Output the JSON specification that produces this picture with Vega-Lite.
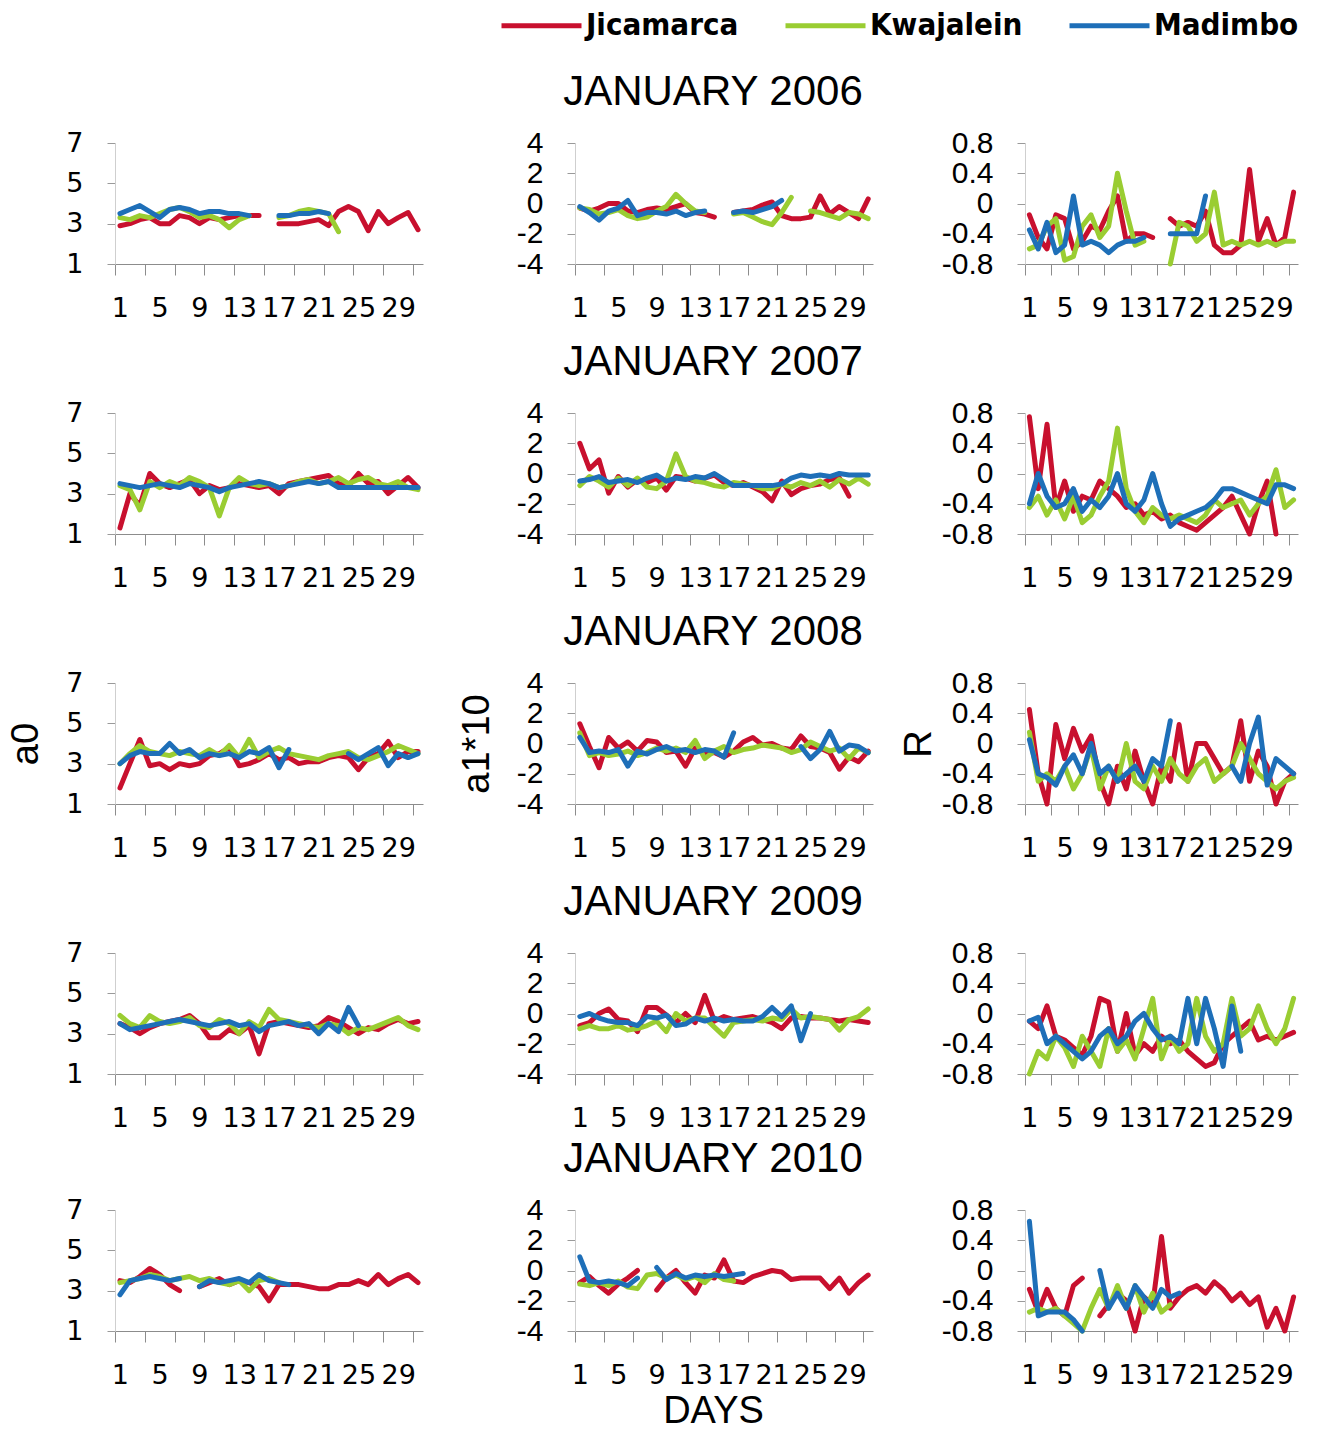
{
"$schema":"https://vega.github.io/schema/vega-lite/v6.json",
"background":"white",
"autosize":"none",
"padding":{"left":115,"top":143,"right":1204,"bottom":1292},
"config":{
 "view":{"stroke":null},
 "range":{"category":["#C8102E","#9ACD32","#1E6FB8"]},
 "line":{"strokeWidth":5,"strokeJoin":"round","strokeCap":"round"},
 "axis":{"grid":false,"labelFlush":false,"labelBound":false,"labelOverlap":false,"labelColor":"black","titleColor":"black","titleFont":"Liberation Sans","titleFontWeight":"normal","titleFontSize":38},
 "axisX":{"tickSize":11,"labelPadding":20,"labelFont":"DejaVu Sans","labelFontSize":27,"domainColor":"#8c8c8c","tickColor":"#8c8c8c","titleFontSize":38,"titlePadding":4},
 "axisY":{"tickSize":8,"labelPadding":24,"labelFont":"Liberation Sans","labelFontSize":30,"domainColor":"#cfcfcf","tickColor":"#9a9a9a"},
 "title":{"font":"Liberation Sans","fontSize":42,"fontWeight":"normal","color":"black"}
},
"datasets":{
"a2006":[
{"s":"J","d":1,"v":2.9},{"s":"J","d":2,"v":3.0},{"s":"J","d":3,"v":3.2},{"s":"J","d":4,"v":3.3},{"s":"J","d":5,"v":3.0},{"s":"J","d":6,"v":3.0},{"s":"J","d":7,"v":3.4},{"s":"J","d":8,"v":3.3},{"s":"J","d":9,"v":3.0},{"s":"J","d":10,"v":3.3},{"s":"J","d":11,"v":3.2},{"s":"J","d":12,"v":3.3},{"s":"J","d":13,"v":3.4},{"s":"J","d":14,"v":3.4},{"s":"J","d":15,"v":3.4},{"s":"J","d":16,"v":null},{"s":"J","d":17,"v":3.0},{"s":"J","d":18,"v":3.0},{"s":"J","d":19,"v":3.0},{"s":"J","d":20,"v":3.1},{"s":"J","d":21,"v":3.2},{"s":"J","d":22,"v":2.9},{"s":"J","d":23,"v":3.6},{"s":"J","d":24,"v":3.85},{"s":"J","d":25,"v":3.6},{"s":"J","d":26,"v":2.65},{"s":"J","d":27,"v":3.6},{"s":"J","d":28,"v":3.0},{"s":"J","d":29,"v":3.3},{"s":"J","d":30,"v":3.55},{"s":"J","d":31,"v":2.7},
{"s":"K","d":1,"v":3.3},{"s":"K","d":2,"v":3.2},{"s":"K","d":3,"v":3.4},{"s":"K","d":4,"v":3.3},{"s":"K","d":5,"v":3.5},{"s":"K","d":6,"v":3.7},{"s":"K","d":7,"v":3.8},{"s":"K","d":8,"v":3.6},{"s":"K","d":9,"v":3.3},{"s":"K","d":10,"v":3.4},{"s":"K","d":11,"v":3.2},{"s":"K","d":12,"v":2.8},{"s":"K","d":13,"v":3.2},{"s":"K","d":14,"v":3.4},{"s":"K","d":15,"v":null},{"s":"K","d":17,"v":3.3},{"s":"K","d":18,"v":3.4},{"s":"K","d":19,"v":3.6},{"s":"K","d":20,"v":3.7},{"s":"K","d":21,"v":3.6},{"s":"K","d":22,"v":3.5},{"s":"K","d":23,"v":2.6},
{"s":"M","d":1,"v":3.5},{"s":"M","d":2,"v":3.7},{"s":"M","d":3,"v":3.9},{"s":"M","d":4,"v":3.6},{"s":"M","d":5,"v":3.3},{"s":"M","d":6,"v":3.7},{"s":"M","d":7,"v":3.8},{"s":"M","d":8,"v":3.7},{"s":"M","d":9,"v":3.5},{"s":"M","d":10,"v":3.6},{"s":"M","d":11,"v":3.6},{"s":"M","d":12,"v":3.5},{"s":"M","d":13,"v":3.5},{"s":"M","d":14,"v":3.4},{"s":"M","d":15,"v":null},{"s":"M","d":17,"v":3.4},{"s":"M","d":18,"v":3.4},{"s":"M","d":19,"v":3.5},{"s":"M","d":20,"v":3.5},{"s":"M","d":21,"v":3.6},{"s":"M","d":22,"v":3.5}
],
"b2006":[
{"s":"J","d":1,"v":-0.3},{"s":"J","d":2,"v":-0.5},{"s":"J","d":3,"v":-0.3},{"s":"J","d":4,"v":0.0},{"s":"J","d":5,"v":0.0},{"s":"J","d":6,"v":-0.5},{"s":"J","d":7,"v":-0.6},{"s":"J","d":8,"v":-0.4},{"s":"J","d":9,"v":-0.3},{"s":"J","d":10,"v":-0.4},{"s":"J","d":11,"v":-0.2},{"s":"J","d":12,"v":0.0},{"s":"J","d":13,"v":-0.6},{"s":"J","d":14,"v":-0.7},{"s":"J","d":15,"v":-0.9},{"s":"J","d":16,"v":null},{"s":"J","d":17,"v":-0.6},{"s":"J","d":18,"v":-0.5},{"s":"J","d":19,"v":-0.4},{"s":"J","d":20,"v":-0.1},{"s":"J","d":21,"v":0.1},{"s":"J","d":22,"v":-0.8},{"s":"J","d":23,"v":-1.0},{"s":"J","d":24,"v":-1.0},{"s":"J","d":25,"v":-0.9},{"s":"J","d":26,"v":0.5},{"s":"J","d":27,"v":-0.7},{"s":"J","d":28,"v":-0.2},{"s":"J","d":29,"v":-0.6},{"s":"J","d":30,"v":-1.0},{"s":"J","d":31,"v":0.3},
{"s":"K","d":1,"v":-0.3},{"s":"K","d":2,"v":-0.4},{"s":"K","d":3,"v":-0.7},{"s":"K","d":4,"v":-0.6},{"s":"K","d":5,"v":-0.4},{"s":"K","d":6,"v":-0.8},{"s":"K","d":7,"v":-1.0},{"s":"K","d":8,"v":-0.9},{"s":"K","d":9,"v":-0.5},{"s":"K","d":10,"v":-0.2},{"s":"K","d":11,"v":0.6},{"s":"K","d":12,"v":0.0},{"s":"K","d":13,"v":-0.5},{"s":"K","d":14,"v":-0.6},{"s":"K","d":15,"v":null},{"s":"K","d":17,"v":-0.7},{"s":"K","d":18,"v":-0.6},{"s":"K","d":19,"v":-0.9},{"s":"K","d":20,"v":-1.2},{"s":"K","d":21,"v":-1.4},{"s":"K","d":22,"v":-0.6},{"s":"K","d":23,"v":0.4},{"s":"K","d":24,"v":null},{"s":"K","d":25,"v":-0.5},{"s":"K","d":26,"v":-0.6},{"s":"K","d":27,"v":-0.8},{"s":"K","d":28,"v":-1.0},{"s":"K","d":29,"v":-0.6},{"s":"K","d":30,"v":-0.7},{"s":"K","d":31,"v":-1.0},
{"s":"M","d":1,"v":-0.2},{"s":"M","d":2,"v":-0.6},{"s":"M","d":3,"v":-1.1},{"s":"M","d":4,"v":-0.5},{"s":"M","d":5,"v":-0.3},{"s":"M","d":6,"v":0.2},{"s":"M","d":7,"v":-0.8},{"s":"M","d":8,"v":-0.6},{"s":"M","d":9,"v":-0.6},{"s":"M","d":10,"v":-0.7},{"s":"M","d":11,"v":-0.5},{"s":"M","d":12,"v":-0.8},{"s":"M","d":13,"v":-0.6},{"s":"M","d":14,"v":-0.5},{"s":"M","d":15,"v":null},{"s":"M","d":17,"v":-0.6},{"s":"M","d":18,"v":-0.5},{"s":"M","d":19,"v":-0.6},{"s":"M","d":20,"v":-0.4},{"s":"M","d":21,"v":-0.2},{"s":"M","d":22,"v":0.2}
],
"r2006":[
{"s":"J","d":1,"v":-0.15},{"s":"J","d":2,"v":-0.45},{"s":"J","d":3,"v":-0.6},{"s":"J","d":4,"v":-0.15},{"s":"J","d":5,"v":-0.2},{"s":"J","d":6,"v":-0.6},{"s":"J","d":7,"v":-0.5},{"s":"J","d":8,"v":-0.3},{"s":"J","d":9,"v":-0.35},{"s":"J","d":10,"v":-0.1},{"s":"J","d":11,"v":0.1},{"s":"J","d":12,"v":-0.5},{"s":"J","d":13,"v":-0.4},{"s":"J","d":14,"v":-0.4},{"s":"J","d":15,"v":-0.45},{"s":"J","d":16,"v":null},{"s":"J","d":17,"v":-0.2},{"s":"J","d":18,"v":-0.3},{"s":"J","d":19,"v":-0.25},{"s":"J","d":20,"v":-0.3},{"s":"J","d":21,"v":-0.1},{"s":"J","d":22,"v":-0.55},{"s":"J","d":23,"v":-0.65},{"s":"J","d":24,"v":-0.65},{"s":"J","d":25,"v":-0.55},{"s":"J","d":26,"v":0.45},{"s":"J","d":27,"v":-0.5},{"s":"J","d":28,"v":-0.2},{"s":"J","d":29,"v":-0.55},{"s":"J","d":30,"v":-0.45},{"s":"J","d":31,"v":0.15},
{"s":"K","d":1,"v":-0.6},{"s":"K","d":2,"v":-0.55},{"s":"K","d":3,"v":-0.3},{"s":"K","d":4,"v":-0.2},{"s":"K","d":5,"v":-0.75},{"s":"K","d":6,"v":-0.7},{"s":"K","d":7,"v":-0.3},{"s":"K","d":8,"v":-0.15},{"s":"K","d":9,"v":-0.45},{"s":"K","d":10,"v":-0.3},{"s":"K","d":11,"v":0.4},{"s":"K","d":12,"v":-0.1},{"s":"K","d":13,"v":-0.55},{"s":"K","d":14,"v":-0.5},{"s":"K","d":15,"v":null},{"s":"K","d":17,"v":-0.8},{"s":"K","d":18,"v":-0.25},{"s":"K","d":19,"v":-0.3},{"s":"K","d":20,"v":-0.5},{"s":"K","d":21,"v":-0.4},{"s":"K","d":22,"v":0.15},{"s":"K","d":23,"v":-0.55},{"s":"K","d":24,"v":-0.5},{"s":"K","d":25,"v":-0.55},{"s":"K","d":26,"v":-0.5},{"s":"K","d":27,"v":-0.55},{"s":"K","d":28,"v":-0.5},{"s":"K","d":29,"v":-0.55},{"s":"K","d":30,"v":-0.5},{"s":"K","d":31,"v":-0.5},
{"s":"M","d":1,"v":-0.35},{"s":"M","d":2,"v":-0.6},{"s":"M","d":3,"v":-0.25},{"s":"M","d":4,"v":-0.65},{"s":"M","d":5,"v":-0.55},{"s":"M","d":6,"v":0.1},{"s":"M","d":7,"v":-0.55},{"s":"M","d":8,"v":-0.5},{"s":"M","d":9,"v":-0.55},{"s":"M","d":10,"v":-0.65},{"s":"M","d":11,"v":-0.55},{"s":"M","d":12,"v":-0.5},{"s":"M","d":13,"v":-0.5},{"s":"M","d":14,"v":-0.45},{"s":"M","d":15,"v":null},{"s":"M","d":17,"v":-0.4},{"s":"M","d":18,"v":-0.4},{"s":"M","d":19,"v":-0.4},{"s":"M","d":20,"v":-0.4},{"s":"M","d":21,"v":0.1}
],
"a2007":[
{"s":"J","d":1,"v":1.3},{"s":"J","d":2,"v":3.0},{"s":"J","d":3,"v":2.4},{"s":"J","d":4,"v":4.0},{"s":"J","d":5,"v":3.5},{"s":"J","d":6,"v":3.3},{"s":"J","d":7,"v":3.5},{"s":"J","d":8,"v":3.7},{"s":"J","d":9,"v":3.0},{"s":"J","d":10,"v":3.4},{"s":"J","d":11,"v":3.2},{"s":"J","d":12,"v":3.3},{"s":"J","d":13,"v":3.5},{"s":"J","d":14,"v":3.4},{"s":"J","d":15,"v":3.3},{"s":"J","d":16,"v":3.4},{"s":"J","d":17,"v":3.0},{"s":"J","d":18,"v":3.5},{"s":"J","d":19,"v":3.6},{"s":"J","d":20,"v":3.7},{"s":"J","d":21,"v":3.8},{"s":"J","d":22,"v":3.9},{"s":"J","d":23,"v":3.5},{"s":"J","d":24,"v":3.4},{"s":"J","d":25,"v":4.0},{"s":"J","d":26,"v":3.5},{"s":"J","d":27,"v":3.6},{"s":"J","d":28,"v":3.0},{"s":"J","d":29,"v":3.4},{"s":"J","d":30,"v":3.8},{"s":"J","d":31,"v":3.3},
{"s":"K","d":1,"v":3.4},{"s":"K","d":2,"v":3.2},{"s":"K","d":3,"v":2.2},{"s":"K","d":4,"v":3.6},{"s":"K","d":5,"v":3.3},{"s":"K","d":6,"v":3.6},{"s":"K","d":7,"v":3.4},{"s":"K","d":8,"v":3.8},{"s":"K","d":9,"v":3.6},{"s":"K","d":10,"v":3.3},{"s":"K","d":11,"v":1.9},{"s":"K","d":12,"v":3.3},{"s":"K","d":13,"v":3.8},{"s":"K","d":14,"v":3.5},{"s":"K","d":15,"v":3.4},{"s":"K","d":16,"v":3.5},{"s":"K","d":17,"v":3.3},{"s":"K","d":18,"v":3.4},{"s":"K","d":19,"v":3.6},{"s":"K","d":20,"v":3.7},{"s":"K","d":21,"v":3.5},{"s":"K","d":22,"v":3.6},{"s":"K","d":23,"v":3.8},{"s":"K","d":24,"v":3.5},{"s":"K","d":25,"v":3.7},{"s":"K","d":26,"v":3.8},{"s":"K","d":27,"v":3.5},{"s":"K","d":28,"v":3.4},{"s":"K","d":29,"v":3.6},{"s":"K","d":30,"v":3.3},{"s":"K","d":31,"v":3.2},
{"s":"M","d":1,"v":3.5},{"s":"M","d":2,"v":3.4},{"s":"M","d":3,"v":3.3},{"s":"M","d":4,"v":3.4},{"s":"M","d":5,"v":3.5},{"s":"M","d":6,"v":3.4},{"s":"M","d":7,"v":3.3},{"s":"M","d":8,"v":3.5},{"s":"M","d":9,"v":3.4},{"s":"M","d":10,"v":3.3},{"s":"M","d":11,"v":3.1},{"s":"M","d":12,"v":3.3},{"s":"M","d":13,"v":3.4},{"s":"M","d":14,"v":3.5},{"s":"M","d":15,"v":3.6},{"s":"M","d":16,"v":3.5},{"s":"M","d":17,"v":3.3},{"s":"M","d":18,"v":3.4},{"s":"M","d":19,"v":3.5},{"s":"M","d":20,"v":3.6},{"s":"M","d":21,"v":3.5},{"s":"M","d":22,"v":3.6},{"s":"M","d":23,"v":3.3},{"s":"M","d":24,"v":3.3},{"s":"M","d":25,"v":3.3},{"s":"M","d":26,"v":3.3},{"s":"M","d":27,"v":3.3},{"s":"M","d":28,"v":3.3},{"s":"M","d":29,"v":3.3},{"s":"M","d":30,"v":3.3},{"s":"M","d":31,"v":3.3}
],
"b2007":[
{"s":"J","d":1,"v":2.0},{"s":"J","d":2,"v":0.3},{"s":"J","d":3,"v":0.9},{"s":"J","d":4,"v":-1.3},{"s":"J","d":5,"v":-0.2},{"s":"J","d":6,"v":-0.9},{"s":"J","d":7,"v":-0.4},{"s":"J","d":8,"v":-0.6},{"s":"J","d":9,"v":-0.3},{"s":"J","d":10,"v":-1.1},{"s":"J","d":11,"v":-0.2},{"s":"J","d":12,"v":-0.3},{"s":"J","d":13,"v":-0.5},{"s":"J","d":14,"v":-0.3},{"s":"J","d":15,"v":-0.1},{"s":"J","d":16,"v":-0.6},{"s":"J","d":17,"v":-0.8},{"s":"J","d":18,"v":-0.6},{"s":"J","d":19,"v":-0.9},{"s":"J","d":20,"v":-1.2},{"s":"J","d":21,"v":-1.8},{"s":"J","d":22,"v":-0.5},{"s":"J","d":23,"v":-1.4},{"s":"J","d":24,"v":-1.0},{"s":"J","d":25,"v":-0.8},{"s":"J","d":26,"v":-0.7},{"s":"J","d":27,"v":-0.4},{"s":"J","d":28,"v":-0.3},{"s":"J","d":29,"v":-1.5},
{"s":"K","d":1,"v":-0.8},{"s":"K","d":2,"v":-0.2},{"s":"K","d":3,"v":-0.5},{"s":"K","d":4,"v":-0.9},{"s":"K","d":5,"v":-0.3},{"s":"K","d":6,"v":-0.8},{"s":"K","d":7,"v":-0.3},{"s":"K","d":8,"v":-0.9},{"s":"K","d":9,"v":-1.0},{"s":"K","d":10,"v":-0.5},{"s":"K","d":11,"v":1.3},{"s":"K","d":12,"v":-0.2},{"s":"K","d":13,"v":-0.5},{"s":"K","d":14,"v":-0.6},{"s":"K","d":15,"v":-0.8},{"s":"K","d":16,"v":-0.9},{"s":"K","d":17,"v":-0.6},{"s":"K","d":18,"v":-0.7},{"s":"K","d":19,"v":-0.8},{"s":"K","d":20,"v":-1.0},{"s":"K","d":21,"v":-1.0},{"s":"K","d":22,"v":-0.7},{"s":"K","d":23,"v":-0.9},{"s":"K","d":24,"v":-0.6},{"s":"K","d":25,"v":-0.8},{"s":"K","d":26,"v":-0.5},{"s":"K","d":27,"v":-0.9},{"s":"K","d":28,"v":-0.4},{"s":"K","d":29,"v":-0.7},{"s":"K","d":30,"v":-0.3},{"s":"K","d":31,"v":-0.7},
{"s":"M","d":1,"v":-0.5},{"s":"M","d":2,"v":-0.4},{"s":"M","d":3,"v":-0.2},{"s":"M","d":4,"v":-0.6},{"s":"M","d":5,"v":-0.5},{"s":"M","d":6,"v":-0.4},{"s":"M","d":7,"v":-0.6},{"s":"M","d":8,"v":-0.3},{"s":"M","d":9,"v":-0.1},{"s":"M","d":10,"v":-0.5},{"s":"M","d":11,"v":-0.3},{"s":"M","d":12,"v":-0.4},{"s":"M","d":13,"v":-0.2},{"s":"M","d":14,"v":-0.3},{"s":"M","d":15,"v":0.0},{"s":"M","d":16,"v":-0.4},{"s":"M","d":17,"v":-0.8},{"s":"M","d":18,"v":-0.8},{"s":"M","d":19,"v":-0.8},{"s":"M","d":20,"v":-0.8},{"s":"M","d":21,"v":-0.8},{"s":"M","d":22,"v":-0.7},{"s":"M","d":23,"v":-0.3},{"s":"M","d":24,"v":-0.1},{"s":"M","d":25,"v":-0.2},{"s":"M","d":26,"v":-0.1},{"s":"M","d":27,"v":-0.2},{"s":"M","d":28,"v":0.0},{"s":"M","d":29,"v":-0.1},{"s":"M","d":30,"v":-0.1},{"s":"M","d":31,"v":-0.1}
],
"r2007":[
{"s":"J","d":1,"v":0.75},{"s":"J","d":2,"v":-0.2},{"s":"J","d":3,"v":0.65},{"s":"J","d":4,"v":-0.45},{"s":"J","d":5,"v":-0.1},{"s":"J","d":6,"v":-0.5},{"s":"J","d":7,"v":-0.3},{"s":"J","d":8,"v":-0.35},{"s":"J","d":9,"v":-0.1},{"s":"J","d":10,"v":-0.2},{"s":"J","d":11,"v":-0.3},{"s":"J","d":12,"v":-0.45},{"s":"J","d":13,"v":-0.4},{"s":"J","d":14,"v":-0.55},{"s":"J","d":15,"v":-0.5},{"s":"J","d":16,"v":-0.6},{"s":"J","d":17,"v":-0.55},{"s":"J","d":18,"v":-0.65},{"s":"J","d":19,"v":-0.7},{"s":"J","d":20,"v":-0.75},{"s":"J","d":21,"v":-0.65},{"s":"J","d":22,"v":-0.55},{"s":"J","d":23,"v":-0.45},{"s":"J","d":24,"v":-0.3},{"s":"J","d":25,"v":-0.55},{"s":"J","d":26,"v":-0.8},{"s":"J","d":27,"v":-0.4},{"s":"J","d":28,"v":-0.1},{"s":"J","d":29,"v":-0.8},
{"s":"K","d":1,"v":-0.45},{"s":"K","d":2,"v":-0.3},{"s":"K","d":3,"v":-0.55},{"s":"K","d":4,"v":-0.35},{"s":"K","d":5,"v":-0.6},{"s":"K","d":6,"v":-0.3},{"s":"K","d":7,"v":-0.65},{"s":"K","d":8,"v":-0.55},{"s":"K","d":9,"v":-0.3},{"s":"K","d":10,"v":-0.1},{"s":"K","d":11,"v":0.6},{"s":"K","d":12,"v":-0.2},{"s":"K","d":13,"v":-0.5},{"s":"K","d":14,"v":-0.65},{"s":"K","d":15,"v":-0.45},{"s":"K","d":16,"v":-0.55},{"s":"K","d":17,"v":-0.6},{"s":"K","d":18,"v":-0.55},{"s":"K","d":19,"v":-0.6},{"s":"K","d":20,"v":-0.65},{"s":"K","d":21,"v":-0.55},{"s":"K","d":22,"v":-0.35},{"s":"K","d":23,"v":-0.45},{"s":"K","d":24,"v":-0.4},{"s":"K","d":25,"v":-0.35},{"s":"K","d":26,"v":-0.55},{"s":"K","d":27,"v":-0.4},{"s":"K","d":28,"v":-0.3},{"s":"K","d":29,"v":0.05},{"s":"K","d":30,"v":-0.45},{"s":"K","d":31,"v":-0.35},
{"s":"M","d":1,"v":-0.4},{"s":"M","d":2,"v":0.0},{"s":"M","d":3,"v":-0.3},{"s":"M","d":4,"v":-0.45},{"s":"M","d":5,"v":-0.4},{"s":"M","d":6,"v":-0.2},{"s":"M","d":7,"v":-0.5},{"s":"M","d":8,"v":-0.35},{"s":"M","d":9,"v":-0.45},{"s":"M","d":10,"v":-0.3},{"s":"M","d":11,"v":0.0},{"s":"M","d":12,"v":-0.4},{"s":"M","d":13,"v":-0.5},{"s":"M","d":14,"v":-0.35},{"s":"M","d":15,"v":0.0},{"s":"M","d":16,"v":-0.4},{"s":"M","d":17,"v":-0.7},{"s":"M","d":18,"v":-0.6},{"s":"M","d":19,"v":-0.55},{"s":"M","d":20,"v":-0.5},{"s":"M","d":21,"v":-0.45},{"s":"M","d":22,"v":-0.35},{"s":"M","d":23,"v":-0.2},{"s":"M","d":24,"v":-0.2},{"s":"M","d":25,"v":-0.25},{"s":"M","d":26,"v":-0.3},{"s":"M","d":27,"v":-0.35},{"s":"M","d":28,"v":-0.4},{"s":"M","d":29,"v":-0.15},{"s":"M","d":30,"v":-0.15},{"s":"M","d":31,"v":-0.2}
],
"a2008":[
{"s":"J","d":1,"v":1.8},{"s":"J","d":2,"v":3.0},{"s":"J","d":3,"v":4.2},{"s":"J","d":4,"v":2.9},{"s":"J","d":5,"v":3.0},{"s":"J","d":6,"v":2.7},{"s":"J","d":7,"v":3.0},{"s":"J","d":8,"v":2.9},{"s":"J","d":9,"v":3.0},{"s":"J","d":10,"v":3.4},{"s":"J","d":11,"v":3.5},{"s":"J","d":12,"v":3.8},{"s":"J","d":13,"v":2.9},{"s":"J","d":14,"v":3.0},{"s":"J","d":15,"v":3.2},{"s":"J","d":16,"v":3.5},{"s":"J","d":17,"v":3.2},{"s":"J","d":18,"v":3.3},{"s":"J","d":19,"v":3.0},{"s":"J","d":20,"v":3.1},{"s":"J","d":21,"v":3.1},{"s":"J","d":22,"v":3.3},{"s":"J","d":23,"v":3.4},{"s":"J","d":24,"v":3.3},{"s":"J","d":25,"v":2.7},{"s":"J","d":26,"v":3.3},{"s":"J","d":27,"v":3.5},{"s":"J","d":28,"v":4.1},{"s":"J","d":29,"v":3.3},{"s":"J","d":30,"v":3.6},{"s":"J","d":31,"v":3.6},
{"s":"K","d":1,"v":3.0},{"s":"K","d":2,"v":3.5},{"s":"K","d":3,"v":3.9},{"s":"K","d":4,"v":3.6},{"s":"K","d":5,"v":3.5},{"s":"K","d":6,"v":3.4},{"s":"K","d":7,"v":3.6},{"s":"K","d":8,"v":3.5},{"s":"K","d":9,"v":3.4},{"s":"K","d":10,"v":3.7},{"s":"K","d":11,"v":3.4},{"s":"K","d":12,"v":3.9},{"s":"K","d":13,"v":3.3},{"s":"K","d":14,"v":4.2},{"s":"K","d":15,"v":3.3},{"s":"K","d":16,"v":3.6},{"s":"K","d":17,"v":3.8},{"s":"K","d":18,"v":3.5},{"s":"K","d":19,"v":3.4},{"s":"K","d":20,"v":3.3},{"s":"K","d":21,"v":3.2},{"s":"K","d":22,"v":3.4},{"s":"K","d":23,"v":3.5},{"s":"K","d":24,"v":3.6},{"s":"K","d":25,"v":3.3},{"s":"K","d":26,"v":3.2},{"s":"K","d":27,"v":3.4},{"s":"K","d":28,"v":3.6},{"s":"K","d":29,"v":3.9},{"s":"K","d":30,"v":3.7},{"s":"K","d":31,"v":3.5},
{"s":"M","d":1,"v":3.0},{"s":"M","d":2,"v":3.4},{"s":"M","d":3,"v":3.6},{"s":"M","d":4,"v":3.5},{"s":"M","d":5,"v":3.5},{"s":"M","d":6,"v":4.0},{"s":"M","d":7,"v":3.5},{"s":"M","d":8,"v":3.7},{"s":"M","d":9,"v":3.3},{"s":"M","d":10,"v":3.5},{"s":"M","d":11,"v":3.4},{"s":"M","d":12,"v":3.5},{"s":"M","d":13,"v":3.3},{"s":"M","d":14,"v":3.6},{"s":"M","d":15,"v":3.5},{"s":"M","d":16,"v":3.8},{"s":"M","d":17,"v":2.8},{"s":"M","d":18,"v":3.7},{"s":"M","d":19,"v":null},{"s":"M","d":24,"v":3.5},{"s":"M","d":25,"v":3.2},{"s":"M","d":26,"v":3.5},{"s":"M","d":27,"v":3.8},{"s":"M","d":28,"v":2.9},{"s":"M","d":29,"v":3.5},{"s":"M","d":30,"v":3.3},{"s":"M","d":31,"v":3.5}
],
"b2008":[
{"s":"J","d":1,"v":1.3},{"s":"J","d":2,"v":-0.2},{"s":"J","d":3,"v":-1.6},{"s":"J","d":4,"v":0.4},{"s":"J","d":5,"v":-0.3},{"s":"J","d":6,"v":0.1},{"s":"J","d":7,"v":-0.5},{"s":"J","d":8,"v":0.2},{"s":"J","d":9,"v":0.1},{"s":"J","d":10,"v":-0.6},{"s":"J","d":11,"v":-0.5},{"s":"J","d":12,"v":-1.5},{"s":"J","d":13,"v":-0.3},{"s":"J","d":14,"v":-0.7},{"s":"J","d":15,"v":-0.6},{"s":"J","d":16,"v":-0.9},{"s":"J","d":17,"v":-0.5},{"s":"J","d":18,"v":0.1},{"s":"J","d":19,"v":0.4},{"s":"J","d":20,"v":-0.1},{"s":"J","d":21,"v":0.0},{"s":"J","d":22,"v":-0.3},{"s":"J","d":23,"v":-0.4},{"s":"J","d":24,"v":0.5},{"s":"J","d":25,"v":-0.2},{"s":"J","d":26,"v":-0.3},{"s":"J","d":27,"v":-0.6},{"s":"J","d":28,"v":-1.7},{"s":"J","d":29,"v":-0.9},{"s":"J","d":30,"v":-1.2},{"s":"J","d":31,"v":-0.5},
{"s":"K","d":1,"v":0.7},{"s":"K","d":2,"v":-0.8},{"s":"K","d":3,"v":-0.6},{"s":"K","d":4,"v":-0.8},{"s":"K","d":5,"v":-0.7},{"s":"K","d":6,"v":-0.5},{"s":"K","d":7,"v":-0.8},{"s":"K","d":8,"v":-0.6},{"s":"K","d":9,"v":-0.3},{"s":"K","d":10,"v":-0.5},{"s":"K","d":11,"v":-0.3},{"s":"K","d":12,"v":-0.6},{"s":"K","d":13,"v":0.2},{"s":"K","d":14,"v":-1.0},{"s":"K","d":15,"v":-0.5},{"s":"K","d":16,"v":-0.2},{"s":"K","d":17,"v":-0.6},{"s":"K","d":18,"v":-0.4},{"s":"K","d":19,"v":-0.3},{"s":"K","d":20,"v":-0.1},{"s":"K","d":21,"v":-0.2},{"s":"K","d":22,"v":-0.3},{"s":"K","d":23,"v":-0.6},{"s":"K","d":24,"v":-0.4},{"s":"K","d":25,"v":0.1},{"s":"K","d":26,"v":-0.2},{"s":"K","d":27,"v":-0.5},{"s":"K","d":28,"v":-0.3},{"s":"K","d":29,"v":-1.0},{"s":"K","d":30,"v":-0.3},{"s":"K","d":31,"v":-0.6},
{"s":"M","d":1,"v":0.4},{"s":"M","d":2,"v":-0.6},{"s":"M","d":3,"v":-0.5},{"s":"M","d":4,"v":-0.6},{"s":"M","d":5,"v":-0.4},{"s":"M","d":6,"v":-1.5},{"s":"M","d":7,"v":-0.5},{"s":"M","d":8,"v":-0.7},{"s":"M","d":9,"v":-0.4},{"s":"M","d":10,"v":-0.2},{"s":"M","d":11,"v":-0.5},{"s":"M","d":12,"v":-0.4},{"s":"M","d":13,"v":-0.6},{"s":"M","d":14,"v":-0.4},{"s":"M","d":15,"v":-0.5},{"s":"M","d":16,"v":-0.9},{"s":"M","d":17,"v":0.7},{"s":"M","d":18,"v":null},{"s":"M","d":24,"v":-0.2},{"s":"M","d":25,"v":-1.0},{"s":"M","d":26,"v":-0.4},{"s":"M","d":27,"v":0.8},{"s":"M","d":28,"v":-0.5},{"s":"M","d":29,"v":-0.1},{"s":"M","d":30,"v":-0.2},{"s":"M","d":31,"v":-0.6}
],
"r2008":[
{"s":"J","d":1,"v":0.45},{"s":"J","d":2,"v":-0.4},{"s":"J","d":3,"v":-0.8},{"s":"J","d":4,"v":0.25},{"s":"J","d":5,"v":-0.2},{"s":"J","d":6,"v":0.2},{"s":"J","d":7,"v":-0.1},{"s":"J","d":8,"v":0.1},{"s":"J","d":9,"v":-0.5},{"s":"J","d":10,"v":-0.8},{"s":"J","d":11,"v":-0.3},{"s":"J","d":12,"v":-0.6},{"s":"J","d":13,"v":-0.1},{"s":"J","d":14,"v":-0.5},{"s":"J","d":15,"v":-0.8},{"s":"J","d":16,"v":-0.3},{"s":"J","d":17,"v":-0.5},{"s":"J","d":18,"v":0.25},{"s":"J","d":19,"v":-0.5},{"s":"J","d":20,"v":0.0},{"s":"J","d":21,"v":0.0},{"s":"J","d":22,"v":-0.2},{"s":"J","d":23,"v":-0.4},{"s":"J","d":24,"v":-0.3},{"s":"J","d":25,"v":0.3},{"s":"J","d":26,"v":-0.5},{"s":"J","d":27,"v":-0.1},{"s":"J","d":28,"v":-0.3},{"s":"J","d":29,"v":-0.8},{"s":"J","d":30,"v":-0.5},{"s":"J","d":31,"v":-0.4},
{"s":"K","d":1,"v":0.15},{"s":"K","d":2,"v":-0.5},{"s":"K","d":3,"v":-0.4},{"s":"K","d":4,"v":-0.5},{"s":"K","d":5,"v":-0.3},{"s":"K","d":6,"v":-0.6},{"s":"K","d":7,"v":-0.4},{"s":"K","d":8,"v":-0.05},{"s":"K","d":9,"v":-0.6},{"s":"K","d":10,"v":-0.3},{"s":"K","d":11,"v":-0.5},{"s":"K","d":12,"v":0.0},{"s":"K","d":13,"v":-0.5},{"s":"K","d":14,"v":-0.6},{"s":"K","d":15,"v":-0.3},{"s":"K","d":16,"v":-0.5},{"s":"K","d":17,"v":-0.2},{"s":"K","d":18,"v":-0.4},{"s":"K","d":19,"v":-0.5},{"s":"K","d":20,"v":-0.3},{"s":"K","d":21,"v":-0.2},{"s":"K","d":22,"v":-0.5},{"s":"K","d":23,"v":-0.4},{"s":"K","d":24,"v":-0.3},{"s":"K","d":25,"v":0.0},{"s":"K","d":26,"v":-0.2},{"s":"K","d":27,"v":-0.4},{"s":"K","d":28,"v":-0.5},{"s":"K","d":29,"v":-0.6},{"s":"K","d":30,"v":-0.5},{"s":"K","d":31,"v":-0.45},
{"s":"M","d":1,"v":0.05},{"s":"M","d":2,"v":-0.4},{"s":"M","d":3,"v":-0.45},{"s":"M","d":4,"v":-0.55},{"s":"M","d":5,"v":-0.3},{"s":"M","d":6,"v":-0.15},{"s":"M","d":7,"v":-0.4},{"s":"M","d":8,"v":0.0},{"s":"M","d":9,"v":-0.4},{"s":"M","d":10,"v":-0.3},{"s":"M","d":11,"v":-0.5},{"s":"M","d":12,"v":-0.4},{"s":"M","d":13,"v":-0.3},{"s":"M","d":14,"v":-0.5},{"s":"M","d":15,"v":-0.2},{"s":"M","d":16,"v":-0.3},{"s":"M","d":17,"v":0.3},{"s":"M","d":18,"v":null},{"s":"M","d":24,"v":-0.3},{"s":"M","d":25,"v":-0.5},{"s":"M","d":26,"v":0.0},{"s":"M","d":27,"v":0.35},{"s":"M","d":28,"v":-0.55},{"s":"M","d":29,"v":-0.2},{"s":"M","d":30,"v":-0.3},{"s":"M","d":31,"v":-0.4}
],
"a2009":[
{"s":"J","d":1,"v":3.5},{"s":"J","d":2,"v":3.3},{"s":"J","d":3,"v":3.0},{"s":"J","d":4,"v":3.3},{"s":"J","d":5,"v":3.5},{"s":"J","d":6,"v":3.6},{"s":"J","d":7,"v":3.7},{"s":"J","d":8,"v":3.9},{"s":"J","d":9,"v":3.5},{"s":"J","d":10,"v":2.8},{"s":"J","d":11,"v":2.8},{"s":"J","d":12,"v":3.2},{"s":"J","d":13,"v":3.0},{"s":"J","d":14,"v":3.4},{"s":"J","d":15,"v":2.0},{"s":"J","d":16,"v":3.5},{"s":"J","d":17,"v":3.6},{"s":"J","d":18,"v":3.5},{"s":"J","d":19,"v":3.4},{"s":"J","d":20,"v":3.3},{"s":"J","d":21,"v":3.4},{"s":"J","d":22,"v":3.8},{"s":"J","d":23,"v":3.6},{"s":"J","d":24,"v":3.3},{"s":"J","d":25,"v":3.0},{"s":"J","d":26,"v":3.3},{"s":"J","d":27,"v":3.2},{"s":"J","d":28,"v":3.5},{"s":"J","d":29,"v":3.7},{"s":"J","d":30,"v":3.5},{"s":"J","d":31,"v":3.6},
{"s":"K","d":1,"v":3.9},{"s":"K","d":2,"v":3.5},{"s":"K","d":3,"v":3.3},{"s":"K","d":4,"v":3.9},{"s":"K","d":5,"v":3.6},{"s":"K","d":6,"v":3.5},{"s":"K","d":7,"v":3.6},{"s":"K","d":8,"v":3.8},{"s":"K","d":9,"v":3.4},{"s":"K","d":10,"v":3.3},{"s":"K","d":11,"v":3.7},{"s":"K","d":12,"v":3.5},{"s":"K","d":13,"v":3.0},{"s":"K","d":14,"v":3.6},{"s":"K","d":15,"v":3.3},{"s":"K","d":16,"v":4.2},{"s":"K","d":17,"v":3.7},{"s":"K","d":18,"v":3.6},{"s":"K","d":19,"v":3.5},{"s":"K","d":20,"v":3.4},{"s":"K","d":21,"v":3.3},{"s":"K","d":22,"v":3.5},{"s":"K","d":23,"v":3.4},{"s":"K","d":24,"v":3.0},{"s":"K","d":25,"v":3.3},{"s":"K","d":26,"v":3.2},{"s":"K","d":27,"v":3.4},{"s":"K","d":28,"v":3.6},{"s":"K","d":29,"v":3.8},{"s":"K","d":30,"v":3.4},{"s":"K","d":31,"v":3.2},
{"s":"M","d":1,"v":3.5},{"s":"M","d":2,"v":3.2},{"s":"M","d":3,"v":3.3},{"s":"M","d":4,"v":3.4},{"s":"M","d":5,"v":3.5},{"s":"M","d":6,"v":3.6},{"s":"M","d":7,"v":3.7},{"s":"M","d":8,"v":3.6},{"s":"M","d":9,"v":3.5},{"s":"M","d":10,"v":3.4},{"s":"M","d":11,"v":3.5},{"s":"M","d":12,"v":3.6},{"s":"M","d":13,"v":3.4},{"s":"M","d":14,"v":3.5},{"s":"M","d":15,"v":3.1},{"s":"M","d":16,"v":3.4},{"s":"M","d":17,"v":3.5},{"s":"M","d":18,"v":3.6},{"s":"M","d":19,"v":3.4},{"s":"M","d":20,"v":3.5},{"s":"M","d":21,"v":3.0},{"s":"M","d":22,"v":3.5},{"s":"M","d":23,"v":3.1},{"s":"M","d":24,"v":4.3},{"s":"M","d":25,"v":3.4}
],
"b2009":[
{"s":"J","d":1,"v":-0.8},{"s":"J","d":2,"v":-0.6},{"s":"J","d":3,"v":0.0},{"s":"J","d":4,"v":0.3},{"s":"J","d":5,"v":-0.4},{"s":"J","d":6,"v":-0.5},{"s":"J","d":7,"v":-1.2},{"s":"J","d":8,"v":0.4},{"s":"J","d":9,"v":0.4},{"s":"J","d":10,"v":-0.1},{"s":"J","d":11,"v":-0.6},{"s":"J","d":12,"v":0.0},{"s":"J","d":13,"v":-0.6},{"s":"J","d":14,"v":1.2},{"s":"J","d":15,"v":-0.5},{"s":"J","d":16,"v":-0.2},{"s":"J","d":17,"v":-0.4},{"s":"J","d":18,"v":-0.3},{"s":"J","d":19,"v":-0.2},{"s":"J","d":20,"v":-0.4},{"s":"J","d":21,"v":-0.6},{"s":"J","d":22,"v":-1.0},{"s":"J","d":23,"v":-0.3},{"s":"J","d":24,"v":-0.2},{"s":"J","d":25,"v":-0.3},{"s":"J","d":26,"v":-0.3},{"s":"J","d":27,"v":-0.4},{"s":"J","d":28,"v":-0.5},{"s":"J","d":29,"v":-0.4},{"s":"J","d":30,"v":-0.5},{"s":"J","d":31,"v":-0.6},
{"s":"K","d":1,"v":-1.0},{"s":"K","d":2,"v":-0.8},{"s":"K","d":3,"v":-1.0},{"s":"K","d":4,"v":-1.0},{"s":"K","d":5,"v":-0.8},{"s":"K","d":6,"v":-1.1},{"s":"K","d":7,"v":-1.0},{"s":"K","d":8,"v":-0.8},{"s":"K","d":9,"v":-0.5},{"s":"K","d":10,"v":-1.2},{"s":"K","d":11,"v":0.0},{"s":"K","d":12,"v":-0.5},{"s":"K","d":13,"v":-0.3},{"s":"K","d":14,"v":-0.3},{"s":"K","d":15,"v":-0.9},{"s":"K","d":16,"v":-1.5},{"s":"K","d":17,"v":-0.6},{"s":"K","d":18,"v":-0.5},{"s":"K","d":19,"v":-0.4},{"s":"K","d":20,"v":-0.5},{"s":"K","d":21,"v":-0.3},{"s":"K","d":22,"v":-0.4},{"s":"K","d":23,"v":0.3},{"s":"K","d":24,"v":-0.3},{"s":"K","d":25,"v":-0.2},{"s":"K","d":26,"v":-0.3},{"s":"K","d":27,"v":-0.4},{"s":"K","d":28,"v":-1.1},{"s":"K","d":29,"v":-0.4},{"s":"K","d":30,"v":-0.2},{"s":"K","d":31,"v":0.3},
{"s":"M","d":1,"v":-0.2},{"s":"M","d":2,"v":0.0},{"s":"M","d":3,"v":-0.3},{"s":"M","d":4,"v":-0.5},{"s":"M","d":5,"v":-0.6},{"s":"M","d":6,"v":-0.6},{"s":"M","d":7,"v":-0.8},{"s":"M","d":8,"v":-0.2},{"s":"M","d":9,"v":-0.3},{"s":"M","d":10,"v":-0.1},{"s":"M","d":11,"v":-0.8},{"s":"M","d":12,"v":-0.7},{"s":"M","d":13,"v":-0.3},{"s":"M","d":14,"v":-0.5},{"s":"M","d":15,"v":-0.3},{"s":"M","d":16,"v":-0.5},{"s":"M","d":17,"v":-0.4},{"s":"M","d":18,"v":-0.5},{"s":"M","d":19,"v":-0.5},{"s":"M","d":20,"v":-0.2},{"s":"M","d":21,"v":0.4},{"s":"M","d":22,"v":-0.2},{"s":"M","d":23,"v":0.5},{"s":"M","d":24,"v":-1.8},{"s":"M","d":25,"v":0.0}
],
"r2009":[
{"s":"J","d":1,"v":-0.1},{"s":"J","d":2,"v":-0.2},{"s":"J","d":3,"v":0.1},{"s":"J","d":4,"v":-0.3},{"s":"J","d":5,"v":-0.35},{"s":"J","d":6,"v":-0.45},{"s":"J","d":7,"v":-0.55},{"s":"J","d":8,"v":-0.3},{"s":"J","d":9,"v":0.2},{"s":"J","d":10,"v":0.15},{"s":"J","d":11,"v":-0.5},{"s":"J","d":12,"v":0.0},{"s":"J","d":13,"v":-0.55},{"s":"J","d":14,"v":-0.4},{"s":"J","d":15,"v":-0.5},{"s":"J","d":16,"v":-0.3},{"s":"J","d":17,"v":-0.4},{"s":"J","d":18,"v":-0.35},{"s":"J","d":19,"v":-0.5},{"s":"J","d":20,"v":-0.6},{"s":"J","d":21,"v":-0.7},{"s":"J","d":22,"v":-0.65},{"s":"J","d":23,"v":-0.4},{"s":"J","d":24,"v":-0.3},{"s":"J","d":25,"v":-0.2},{"s":"J","d":26,"v":-0.1},{"s":"J","d":27,"v":-0.35},{"s":"J","d":28,"v":-0.3},{"s":"J","d":29,"v":-0.35},{"s":"J","d":30,"v":-0.3},{"s":"J","d":31,"v":-0.25},
{"s":"K","d":1,"v":-0.8},{"s":"K","d":2,"v":-0.5},{"s":"K","d":3,"v":-0.6},{"s":"K","d":4,"v":-0.3},{"s":"K","d":5,"v":-0.45},{"s":"K","d":6,"v":-0.7},{"s":"K","d":7,"v":-0.3},{"s":"K","d":8,"v":-0.5},{"s":"K","d":9,"v":-0.7},{"s":"K","d":10,"v":-0.2},{"s":"K","d":11,"v":-0.5},{"s":"K","d":12,"v":-0.35},{"s":"K","d":13,"v":-0.6},{"s":"K","d":14,"v":-0.2},{"s":"K","d":15,"v":0.2},{"s":"K","d":16,"v":-0.6},{"s":"K","d":17,"v":-0.3},{"s":"K","d":18,"v":-0.5},{"s":"K","d":19,"v":-0.4},{"s":"K","d":20,"v":0.2},{"s":"K","d":21,"v":-0.3},{"s":"K","d":22,"v":-0.5},{"s":"K","d":23,"v":-0.4},{"s":"K","d":24,"v":0.2},{"s":"K","d":25,"v":-0.3},{"s":"K","d":26,"v":-0.2},{"s":"K","d":27,"v":0.1},{"s":"K","d":28,"v":-0.2},{"s":"K","d":29,"v":-0.4},{"s":"K","d":30,"v":-0.2},{"s":"K","d":31,"v":0.2},
{"s":"M","d":1,"v":-0.1},{"s":"M","d":2,"v":-0.05},{"s":"M","d":3,"v":-0.4},{"s":"M","d":4,"v":-0.3},{"s":"M","d":5,"v":-0.4},{"s":"M","d":6,"v":-0.5},{"s":"M","d":7,"v":-0.6},{"s":"M","d":8,"v":-0.5},{"s":"M","d":9,"v":-0.3},{"s":"M","d":10,"v":-0.2},{"s":"M","d":11,"v":-0.4},{"s":"M","d":12,"v":-0.3},{"s":"M","d":13,"v":-0.1},{"s":"M","d":14,"v":0.0},{"s":"M","d":15,"v":-0.2},{"s":"M","d":16,"v":-0.35},{"s":"M","d":17,"v":-0.3},{"s":"M","d":18,"v":-0.4},{"s":"M","d":19,"v":0.2},{"s":"M","d":20,"v":-0.4},{"s":"M","d":21,"v":0.2},{"s":"M","d":22,"v":-0.2},{"s":"M","d":23,"v":-0.7},{"s":"M","d":24,"v":0.1},{"s":"M","d":25,"v":-0.5}
],
"a2010":[
{"s":"J","d":1,"v":3.5},{"s":"J","d":2,"v":3.4},{"s":"J","d":3,"v":3.7},{"s":"J","d":4,"v":4.1},{"s":"J","d":5,"v":3.8},{"s":"J","d":6,"v":3.3},{"s":"J","d":7,"v":3.0},{"s":"J","d":8,"v":null},{"s":"J","d":9,"v":3.2},{"s":"J","d":10,"v":3.4},{"s":"J","d":11,"v":3.6},{"s":"J","d":12,"v":3.3},{"s":"J","d":13,"v":3.5},{"s":"J","d":14,"v":3.4},{"s":"J","d":15,"v":3.2},{"s":"J","d":16,"v":2.5},{"s":"J","d":17,"v":3.3},{"s":"J","d":18,"v":3.3},{"s":"J","d":19,"v":3.3},{"s":"J","d":20,"v":3.2},{"s":"J","d":21,"v":3.1},{"s":"J","d":22,"v":3.1},{"s":"J","d":23,"v":3.3},{"s":"J","d":24,"v":3.3},{"s":"J","d":25,"v":3.5},{"s":"J","d":26,"v":3.3},{"s":"J","d":27,"v":3.8},{"s":"J","d":28,"v":3.3},{"s":"J","d":29,"v":3.6},{"s":"J","d":30,"v":3.8},{"s":"J","d":31,"v":3.4},
{"s":"K","d":1,"v":3.4},{"s":"K","d":2,"v":3.5},{"s":"K","d":3,"v":3.6},{"s":"K","d":4,"v":3.8},{"s":"K","d":5,"v":3.7},{"s":"K","d":6,"v":3.5},{"s":"K","d":7,"v":3.6},{"s":"K","d":8,"v":3.7},{"s":"K","d":9,"v":3.5},{"s":"K","d":10,"v":3.6},{"s":"K","d":11,"v":3.4},{"s":"K","d":12,"v":3.3},{"s":"K","d":13,"v":3.5},{"s":"K","d":14,"v":3.0},{"s":"K","d":15,"v":3.5},{"s":"K","d":16,"v":3.6},{"s":"K","d":17,"v":3.4},
{"s":"M","d":1,"v":2.8},{"s":"M","d":2,"v":3.5},{"s":"M","d":3,"v":3.6},{"s":"M","d":4,"v":3.7},{"s":"M","d":5,"v":3.6},{"s":"M","d":6,"v":3.5},{"s":"M","d":7,"v":3.6},{"s":"M","d":8,"v":null},{"s":"M","d":9,"v":3.2},{"s":"M","d":10,"v":3.5},{"s":"M","d":11,"v":3.4},{"s":"M","d":12,"v":3.5},{"s":"M","d":13,"v":3.6},{"s":"M","d":14,"v":3.4},{"s":"M","d":15,"v":3.8},{"s":"M","d":16,"v":3.5},{"s":"M","d":17,"v":3.4},{"s":"M","d":18,"v":3.3}
],
"b2010":[
{"s":"J","d":1,"v":-0.8},{"s":"J","d":2,"v":-0.4},{"s":"J","d":3,"v":-1.0},{"s":"J","d":4,"v":-1.5},{"s":"J","d":5,"v":-0.9},{"s":"J","d":6,"v":-0.5},{"s":"J","d":7,"v":0.0},{"s":"J","d":8,"v":null},{"s":"J","d":9,"v":-1.3},{"s":"J","d":10,"v":-0.5},{"s":"J","d":11,"v":0.0},{"s":"J","d":12,"v":-0.8},{"s":"J","d":13,"v":-1.5},{"s":"J","d":14,"v":-0.3},{"s":"J","d":15,"v":-0.5},{"s":"J","d":16,"v":0.7},{"s":"J","d":17,"v":-0.7},{"s":"J","d":18,"v":-0.8},{"s":"J","d":19,"v":-0.4},{"s":"J","d":20,"v":-0.2},{"s":"J","d":21,"v":0.0},{"s":"J","d":22,"v":-0.1},{"s":"J","d":23,"v":-0.6},{"s":"J","d":24,"v":-0.5},{"s":"J","d":25,"v":-0.5},{"s":"J","d":26,"v":-0.5},{"s":"J","d":27,"v":-1.2},{"s":"J","d":28,"v":-0.5},{"s":"J","d":29,"v":-1.5},{"s":"J","d":30,"v":-0.8},{"s":"J","d":31,"v":-0.3},
{"s":"K","d":1,"v":-0.9},{"s":"K","d":2,"v":-1.0},{"s":"K","d":3,"v":-0.8},{"s":"K","d":4,"v":-1.0},{"s":"K","d":5,"v":-0.7},{"s":"K","d":6,"v":-1.1},{"s":"K","d":7,"v":-1.2},{"s":"K","d":8,"v":-0.3},{"s":"K","d":9,"v":-0.2},{"s":"K","d":10,"v":-0.5},{"s":"K","d":11,"v":-0.3},{"s":"K","d":12,"v":-0.6},{"s":"K","d":13,"v":-0.4},{"s":"K","d":14,"v":-0.8},{"s":"K","d":15,"v":-0.2},{"s":"K","d":16,"v":-0.6},{"s":"K","d":17,"v":-0.7},
{"s":"M","d":1,"v":0.9},{"s":"M","d":2,"v":-0.7},{"s":"M","d":3,"v":-0.8},{"s":"M","d":4,"v":-0.7},{"s":"M","d":5,"v":-0.8},{"s":"M","d":6,"v":-1.0},{"s":"M","d":7,"v":-0.5},{"s":"M","d":8,"v":null},{"s":"M","d":9,"v":0.2},{"s":"M","d":10,"v":-0.6},{"s":"M","d":11,"v":-0.2},{"s":"M","d":12,"v":-0.5},{"s":"M","d":13,"v":-0.3},{"s":"M","d":14,"v":-0.4},{"s":"M","d":15,"v":-0.3},{"s":"M","d":16,"v":-0.4},{"s":"M","d":17,"v":-0.3},{"s":"M","d":18,"v":-0.2}
],
"r2010":[
{"s":"J","d":1,"v":-0.25},{"s":"J","d":2,"v":-0.55},{"s":"J","d":3,"v":-0.25},{"s":"J","d":4,"v":-0.5},{"s":"J","d":5,"v":-0.6},{"s":"J","d":6,"v":-0.2},{"s":"J","d":7,"v":-0.1},{"s":"J","d":8,"v":null},{"s":"J","d":9,"v":-0.6},{"s":"J","d":10,"v":-0.45},{"s":"J","d":11,"v":-0.3},{"s":"J","d":12,"v":-0.4},{"s":"J","d":13,"v":-0.8},{"s":"J","d":14,"v":-0.35},{"s":"J","d":15,"v":-0.45},{"s":"J","d":16,"v":0.45},{"s":"J","d":17,"v":-0.5},{"s":"J","d":18,"v":-0.35},{"s":"J","d":19,"v":-0.25},{"s":"J","d":20,"v":-0.2},{"s":"J","d":21,"v":-0.3},{"s":"J","d":22,"v":-0.15},{"s":"J","d":23,"v":-0.25},{"s":"J","d":24,"v":-0.4},{"s":"J","d":25,"v":-0.3},{"s":"J","d":26,"v":-0.45},{"s":"J","d":27,"v":-0.35},{"s":"J","d":28,"v":-0.75},{"s":"J","d":29,"v":-0.5},{"s":"J","d":30,"v":-0.8},{"s":"J","d":31,"v":-0.35},
{"s":"K","d":1,"v":-0.55},{"s":"K","d":2,"v":-0.5},{"s":"K","d":3,"v":-0.55},{"s":"K","d":4,"v":-0.5},{"s":"K","d":5,"v":-0.6},{"s":"K","d":6,"v":-0.7},{"s":"K","d":7,"v":-0.8},{"s":"K","d":8,"v":-0.5},{"s":"K","d":9,"v":-0.25},{"s":"K","d":10,"v":-0.5},{"s":"K","d":11,"v":-0.2},{"s":"K","d":12,"v":-0.5},{"s":"K","d":13,"v":-0.2},{"s":"K","d":14,"v":-0.55},{"s":"K","d":15,"v":-0.3},{"s":"K","d":16,"v":-0.55},{"s":"K","d":17,"v":-0.45},
{"s":"M","d":1,"v":0.65},{"s":"M","d":2,"v":-0.6},{"s":"M","d":3,"v":-0.55},{"s":"M","d":4,"v":-0.55},{"s":"M","d":5,"v":-0.55},{"s":"M","d":6,"v":-0.65},{"s":"M","d":7,"v":-0.8},{"s":"M","d":8,"v":null},{"s":"M","d":9,"v":0.0},{"s":"M","d":10,"v":-0.5},{"s":"M","d":11,"v":-0.3},{"s":"M","d":12,"v":-0.5},{"s":"M","d":13,"v":-0.2},{"s":"M","d":14,"v":-0.35},{"s":"M","d":15,"v":-0.5},{"s":"M","d":16,"v":-0.25},{"s":"M","d":17,"v":-0.35},{"s":"M","d":18,"v":-0.3}
]
},
"vconcat":[
{"vconcat":[
{"hconcat":[
{"width":308,"height":121,"data":{"name":"a2006"},"mark":{"type":"line","invalid":"break-paths-show-domains"},"encoding":{"x":{"field":"d","type":"quantitative","scale":{"domain":[0.5,31.5],"nice":false,"zero":false},"axis":{"values":[0.5,1,3.5,5,6.5,9,9.5,12.5,13,15.5,17,18.5,21,21.5,24.5,25,27.5,29,30.5],"labelExpr":"datum.value%4==1?''+datum.value:''","tickOpacity":{"condition":{"test":"datum.value%1==0","value":0},"value":1},"title":null}},"y":{"field":"v","type":"quantitative","scale":{"domain":[1,7],"nice":false,"zero":false},"axis":{"values":[1,3,5,7],"labelFont":"DejaVu Sans","labelFontSize":27,"title":null}},"color":{"field":"s","type":"nominal","legend":{"orient":"none","legendX":384,"legendY":-160,"direction":"horizontal","title":null,"symbolType":"stroke","symbolSize":6400,"symbolStrokeWidth":6,"labelFont":"DejaVu Sans Condensed, Liberation Sans Narrow, Liberation Sans, sans-serif","labelFontWeight":"bold","labelFontSize":31,"labelColor":"black","labelLimit":0,"labelOffset":2,"columnPadding":44,"labelExpr":"datum.label=='J'?'Jicamarca':datum.label=='K'?'Kwajalein':'Madimbo'"}}}},
{"width":298,"height":121,"title":{"text":"JANUARY 2006","anchor":"middle","frame":"group","dx":-11,"offset":14},"data":{"name":"b2006"},"mark":{"type":"line","invalid":"break-paths-show-domains"},"encoding":{"x":{"field":"d","type":"quantitative","scale":{"domain":[0.5,31.5],"nice":false,"zero":false},"axis":{"values":[0.5,1,3.5,5,6.5,9,9.5,12.5,13,15.5,17,18.5,21,21.5,24.5,25,27.5,29,30.5],"labelExpr":"datum.value%4==1?''+datum.value:''","tickOpacity":{"condition":{"test":"datum.value%1==0","value":0},"value":1},"title":null}},"y":{"field":"v","type":"quantitative","scale":{"domain":[-4,4],"nice":false,"zero":false},"axis":{"values":[-4,-2,0,2,4],"labelExpr":"''+datum.value","title":null}},"color":{"field":"s","type":"nominal"}}},
{"width":273,"height":121,"data":{"name":"r2006"},"mark":{"type":"line","invalid":"break-paths-show-domains"},"encoding":{"x":{"field":"d","type":"quantitative","scale":{"domain":[0.5,31.5],"nice":false,"zero":false},"axis":{"values":[0.5,1,3.5,5,6.5,9,9.5,12.5,13,15.5,17,18.5,21,21.5,24.5,25,27.5,29,30.5],"labelExpr":"datum.value%4==1?''+datum.value:''","tickOpacity":{"condition":{"test":"datum.value%1==0","value":0},"value":1},"title":null}},"y":{"field":"v","type":"quantitative","scale":{"domain":[-0.8,0.8],"nice":false,"zero":false},"axis":{"values":[-0.8,-0.4,0,0.4,0.8],"labelExpr":"''+datum.value","title":null}},"color":{"field":"s","type":"nominal"}}}
],"spacing":152,"bounds":"flush"},
{"hconcat":[
{"width":308,"height":121,"data":{"name":"a2007"},"mark":{"type":"line","invalid":"break-paths-show-domains"},"encoding":{"x":{"field":"d","type":"quantitative","scale":{"domain":[0.5,31.5],"nice":false,"zero":false},"axis":{"values":[0.5,1,3.5,5,6.5,9,9.5,12.5,13,15.5,17,18.5,21,21.5,24.5,25,27.5,29,30.5],"labelExpr":"datum.value%4==1?''+datum.value:''","tickOpacity":{"condition":{"test":"datum.value%1==0","value":0},"value":1},"title":null}},"y":{"field":"v","type":"quantitative","scale":{"domain":[1,7],"nice":false,"zero":false},"axis":{"values":[1,3,5,7],"labelFont":"DejaVu Sans","labelFontSize":27,"title":null}},"color":{"field":"s","type":"nominal"}}},
{"width":298,"height":121,"title":{"text":"JANUARY 2007","anchor":"middle","frame":"group","dx":-11,"offset":14},"data":{"name":"b2007"},"mark":{"type":"line","invalid":"break-paths-show-domains"},"encoding":{"x":{"field":"d","type":"quantitative","scale":{"domain":[0.5,31.5],"nice":false,"zero":false},"axis":{"values":[0.5,1,3.5,5,6.5,9,9.5,12.5,13,15.5,17,18.5,21,21.5,24.5,25,27.5,29,30.5],"labelExpr":"datum.value%4==1?''+datum.value:''","tickOpacity":{"condition":{"test":"datum.value%1==0","value":0},"value":1},"title":null}},"y":{"field":"v","type":"quantitative","scale":{"domain":[-4,4],"nice":false,"zero":false},"axis":{"values":[-4,-2,0,2,4],"labelExpr":"''+datum.value","title":null}},"color":{"field":"s","type":"nominal"}}},
{"width":273,"height":121,"data":{"name":"r2007"},"mark":{"type":"line","invalid":"break-paths-show-domains"},"encoding":{"x":{"field":"d","type":"quantitative","scale":{"domain":[0.5,31.5],"nice":false,"zero":false},"axis":{"values":[0.5,1,3.5,5,6.5,9,9.5,12.5,13,15.5,17,18.5,21,21.5,24.5,25,27.5,29,30.5],"labelExpr":"datum.value%4==1?''+datum.value:''","tickOpacity":{"condition":{"test":"datum.value%1==0","value":0},"value":1},"title":null}},"y":{"field":"v","type":"quantitative","scale":{"domain":[-0.8,0.8],"nice":false,"zero":false},"axis":{"values":[-0.8,-0.4,0,0.4,0.8],"labelExpr":"''+datum.value","title":null}},"color":{"field":"s","type":"nominal"}}}
],"spacing":152,"bounds":"flush"},
{"hconcat":[
{"width":308,"height":121,"data":{"name":"a2008"},"mark":{"type":"line","invalid":"break-paths-show-domains"},"encoding":{"x":{"field":"d","type":"quantitative","scale":{"domain":[0.5,31.5],"nice":false,"zero":false},"axis":{"values":[0.5,1,3.5,5,6.5,9,9.5,12.5,13,15.5,17,18.5,21,21.5,24.5,25,27.5,29,30.5],"labelExpr":"datum.value%4==1?''+datum.value:''","tickOpacity":{"condition":{"test":"datum.value%1==0","value":0},"value":1},"title":null}},"y":{"field":"v","type":"quantitative","scale":{"domain":[1,7],"nice":false,"zero":false},"axis":{"values":[1,3,5,7],"labelFont":"DejaVu Sans","labelFontSize":27,"title":"a0","titlePadding":20}},"color":{"field":"s","type":"nominal"}}},
{"width":298,"height":121,"title":{"text":"JANUARY 2008","anchor":"middle","frame":"group","dx":-11,"offset":14},"data":{"name":"b2008"},"mark":{"type":"line","invalid":"break-paths-show-domains"},"encoding":{"x":{"field":"d","type":"quantitative","scale":{"domain":[0.5,31.5],"nice":false,"zero":false},"axis":{"values":[0.5,1,3.5,5,6.5,9,9.5,12.5,13,15.5,17,18.5,21,21.5,24.5,25,27.5,29,30.5],"labelExpr":"datum.value%4==1?''+datum.value:''","tickOpacity":{"condition":{"test":"datum.value%1==0","value":0},"value":1},"title":null}},"y":{"field":"v","type":"quantitative","scale":{"domain":[-4,4],"nice":false,"zero":false},"axis":{"values":[-4,-2,0,2,4],"labelExpr":"''+datum.value","title":"a1*10","titlePadding":20}},"color":{"field":"s","type":"nominal"}}},
{"width":273,"height":121,"data":{"name":"r2008"},"mark":{"type":"line","invalid":"break-paths-show-domains"},"encoding":{"x":{"field":"d","type":"quantitative","scale":{"domain":[0.5,31.5],"nice":false,"zero":false},"axis":{"values":[0.5,1,3.5,5,6.5,9,9.5,12.5,13,15.5,17,18.5,21,21.5,24.5,25,27.5,29,30.5],"labelExpr":"datum.value%4==1?''+datum.value:''","tickOpacity":{"condition":{"test":"datum.value%1==0","value":0},"value":1},"title":null}},"y":{"field":"v","type":"quantitative","scale":{"domain":[-0.8,0.8],"nice":false,"zero":false},"axis":{"values":[-0.8,-0.4,0,0.4,0.8],"labelExpr":"''+datum.value","title":"R","titlePadding":3}},"color":{"field":"s","type":"nominal"}}}
],"spacing":152,"bounds":"flush"},
{"hconcat":[
{"width":308,"height":121,"data":{"name":"a2009"},"mark":{"type":"line","invalid":"break-paths-show-domains"},"encoding":{"x":{"field":"d","type":"quantitative","scale":{"domain":[0.5,31.5],"nice":false,"zero":false},"axis":{"values":[0.5,1,3.5,5,6.5,9,9.5,12.5,13,15.5,17,18.5,21,21.5,24.5,25,27.5,29,30.5],"labelExpr":"datum.value%4==1?''+datum.value:''","tickOpacity":{"condition":{"test":"datum.value%1==0","value":0},"value":1},"title":null}},"y":{"field":"v","type":"quantitative","scale":{"domain":[1,7],"nice":false,"zero":false},"axis":{"values":[1,3,5,7],"labelFont":"DejaVu Sans","labelFontSize":27,"title":null}},"color":{"field":"s","type":"nominal"}}},
{"width":298,"height":121,"title":{"text":"JANUARY 2009","anchor":"middle","frame":"group","dx":-11,"offset":14},"data":{"name":"b2009"},"mark":{"type":"line","invalid":"break-paths-show-domains"},"encoding":{"x":{"field":"d","type":"quantitative","scale":{"domain":[0.5,31.5],"nice":false,"zero":false},"axis":{"values":[0.5,1,3.5,5,6.5,9,9.5,12.5,13,15.5,17,18.5,21,21.5,24.5,25,27.5,29,30.5],"labelExpr":"datum.value%4==1?''+datum.value:''","tickOpacity":{"condition":{"test":"datum.value%1==0","value":0},"value":1},"title":null}},"y":{"field":"v","type":"quantitative","scale":{"domain":[-4,4],"nice":false,"zero":false},"axis":{"values":[-4,-2,0,2,4],"labelExpr":"''+datum.value","title":null}},"color":{"field":"s","type":"nominal"}}},
{"width":273,"height":121,"data":{"name":"r2009"},"mark":{"type":"line","invalid":"break-paths-show-domains"},"encoding":{"x":{"field":"d","type":"quantitative","scale":{"domain":[0.5,31.5],"nice":false,"zero":false},"axis":{"values":[0.5,1,3.5,5,6.5,9,9.5,12.5,13,15.5,17,18.5,21,21.5,24.5,25,27.5,29,30.5],"labelExpr":"datum.value%4==1?''+datum.value:''","tickOpacity":{"condition":{"test":"datum.value%1==0","value":0},"value":1},"title":null}},"y":{"field":"v","type":"quantitative","scale":{"domain":[-0.8,0.8],"nice":false,"zero":false},"axis":{"values":[-0.8,-0.4,0,0.4,0.8],"labelExpr":"''+datum.value","title":null}},"color":{"field":"s","type":"nominal"}}}
],"spacing":152,"bounds":"flush"}
],"spacing":270,"bounds":"flush"},
{"hconcat":[
{"width":308,"height":121,"data":{"name":"a2010"},"mark":{"type":"line","invalid":"break-paths-show-domains"},"encoding":{"x":{"field":"d","type":"quantitative","scale":{"domain":[0.5,31.5],"nice":false,"zero":false},"axis":{"values":[0.5,1,3.5,5,6.5,9,9.5,12.5,13,15.5,17,18.5,21,21.5,24.5,25,27.5,29,30.5],"labelExpr":"datum.value%4==1?''+datum.value:''","tickOpacity":{"condition":{"test":"datum.value%1==0","value":0},"value":1},"title":null}},"y":{"field":"v","type":"quantitative","scale":{"domain":[1,7],"nice":false,"zero":false},"axis":{"values":[1,3,5,7],"labelFont":"DejaVu Sans","labelFontSize":27,"title":null}},"color":{"field":"s","type":"nominal"}}},
{"width":298,"height":121,"title":{"text":"JANUARY 2010","anchor":"middle","frame":"group","dx":-11,"offset":14},"data":{"name":"b2010"},"mark":{"type":"line","invalid":"break-paths-show-domains"},"encoding":{"x":{"field":"d","type":"quantitative","scale":{"domain":[0.5,31.5],"nice":false,"zero":false},"axis":{"values":[0.5,1,3.5,5,6.5,9,9.5,12.5,13,15.5,17,18.5,21,21.5,24.5,25,27.5,29,30.5],"labelExpr":"datum.value%4==1?''+datum.value:''","tickOpacity":{"condition":{"test":"datum.value%1==0","value":0},"value":1},"title":"DAYS","titleX":138}},"y":{"field":"v","type":"quantitative","scale":{"domain":[-4,4],"nice":false,"zero":false},"axis":{"values":[-4,-2,0,2,4],"labelExpr":"''+datum.value","title":null}},"color":{"field":"s","type":"nominal"}}},
{"width":273,"height":121,"data":{"name":"r2010"},"mark":{"type":"line","invalid":"break-paths-show-domains"},"encoding":{"x":{"field":"d","type":"quantitative","scale":{"domain":[0.5,31.5],"nice":false,"zero":false},"axis":{"values":[0.5,1,3.5,5,6.5,9,9.5,12.5,13,15.5,17,18.5,21,21.5,24.5,25,27.5,29,30.5],"labelExpr":"datum.value%4==1?''+datum.value:''","tickOpacity":{"condition":{"test":"datum.value%1==0","value":0},"value":1},"title":null}},"y":{"field":"v","type":"quantitative","scale":{"domain":[-0.8,0.8],"nice":false,"zero":false},"axis":{"values":[-0.8,-0.4,0,0.4,0.8],"labelExpr":"''+datum.value","title":null}},"color":{"field":"s","type":"nominal"}}}
],"spacing":152,"bounds":"flush"}
],
"spacing":1067,
"bounds":"flush"
}
